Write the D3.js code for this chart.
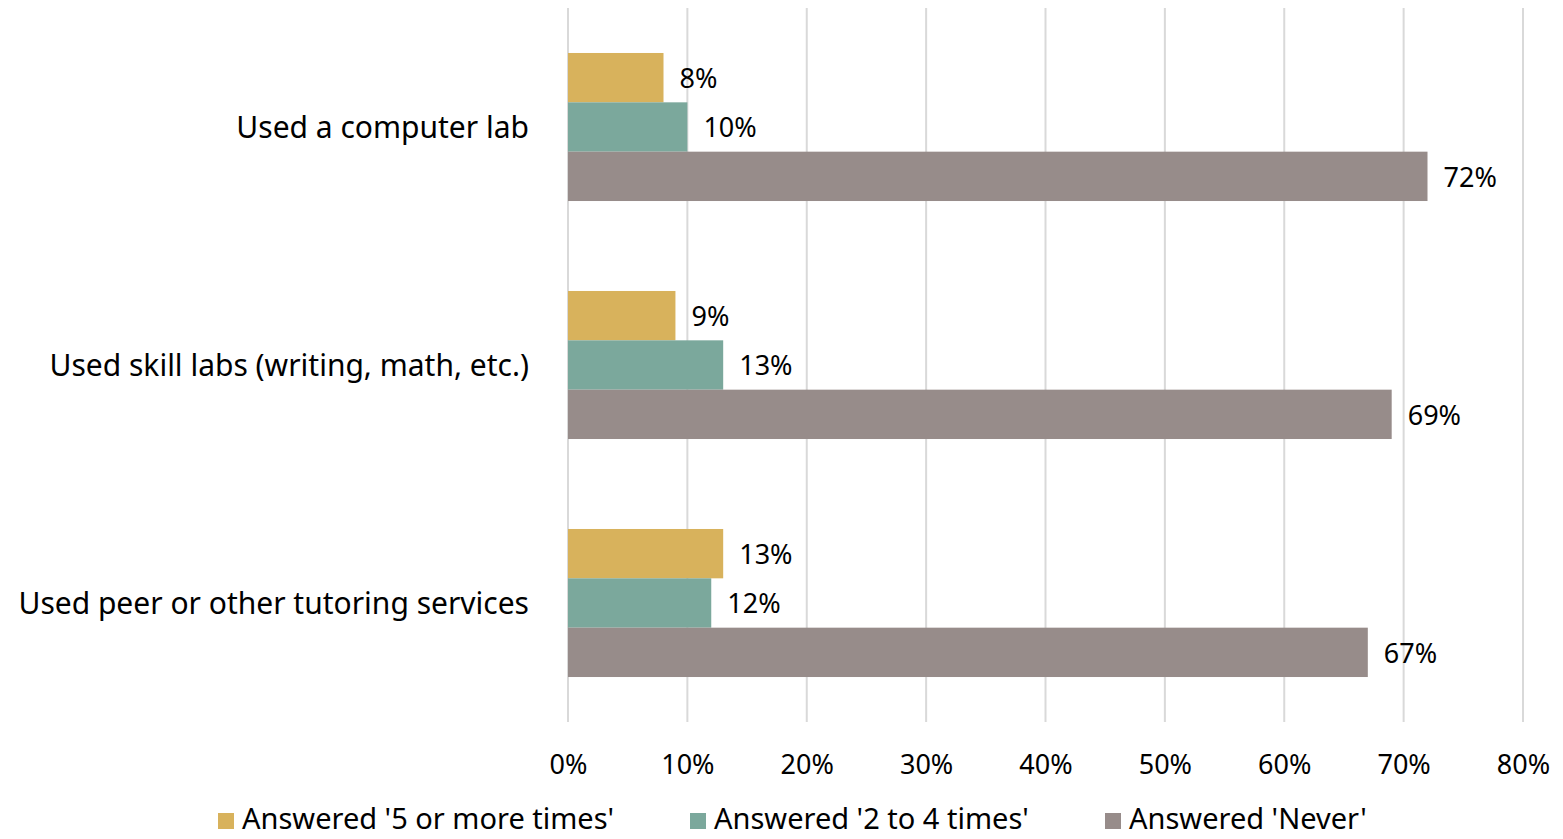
<!DOCTYPE html>
<html>
<head>
<meta charset="utf-8">
<script src="https://cdn.jsdelivr.net/npm/d3@7"></script>
<style>
  body { margin: 0; background: #fff; }
  text { font-family: "Noto Sans", sans-serif; fill: #000; }
</style>
</head>
<body>
<div id="chart"></div>
<script>
const categories = ["Used a computer lab", "Used skill labs (writing, math, etc.)", "Used peer or other tutoring services"];
const seriesNames = ["Answered '5 or more times'", "Answered '2 to 4 times'", "Answered 'Never'"];
const fiveOrMore = [8, 9, 13];
const twoToFour = [10, 13, 12];
const never = [72, 69, 67];
const xTicks = [0, 10, 20, 30, 40, 50, 60, 70, 80];
const colors = ["#D8B25C", "#7BA89C", "#978C8A"];

const width = 1563;
const height = 839;
const marginTop = 8;
const marginBottom = 117;
const marginLeft = 568;
const marginRight = 40;

const seriesValues = [fiveOrMore, twoToFour, never];

const svg = d3.select("#chart")
    .append("svg")
    .attr("width", width)
    .attr("height", height);

const x = d3.scaleLinear()
    .domain([0, 80])
    .range([marginLeft, width - marginRight]);

const y = d3.scaleBand()
    .domain(categories)
    .range([marginTop, height - marginBottom])
    .paddingInner(0.378)
    .paddingOuter(0.189);

const ySub = d3.scaleBand()
    .domain(d3.range(seriesNames.length))
    .range([0, y.bandwidth()]);

// gridlines
svg.append("g")
    .selectAll("line")
    .data(xTicks)
    .join("line")
    .attr("x1", d => x(d))
    .attr("x2", d => x(d))
    .attr("y1", marginTop)
    .attr("y2", height - marginBottom)
    .attr("stroke", "#d9d9d9")
    .attr("stroke-width", 2);

// x axis labels
svg.append("g")
    .attr("transform", `translate(0,${height - marginBottom})`)
    .call(d3.axisBottom(x).tickValues(xTicks).tickFormat(d => d + "%").tickSize(0).tickPadding(33))
    .call(g => g.select(".domain").remove())
    .call(g => g.selectAll("text").attr("font-size", 27).attr("font-family", "'Noto Sans', sans-serif").attr("fill", "#000"));

// category labels
svg.append("g")
    .selectAll("text")
    .data(categories)
    .join("text")
    .attr("x", marginLeft - 39)
    .attr("y", d => y(d) + ySub(1) + ySub.bandwidth() / 2)
    .attr("dy", "0.35em")
    .attr("text-anchor", "end")
    .attr("font-size", 30)
    .text(d => d);

// bars
seriesValues.forEach((vals, s) => {
    const g = svg.append("g");
    g.selectAll("rect")
        .data(vals)
        .join("rect")
        .attr("x", x(0))
        .attr("y", (d, i) => y(categories[i]) + ySub(s))
        .attr("width", d => x(d) - x(0))
        .attr("height", ySub.bandwidth())
        .attr("fill", colors[s]);
    g.selectAll("text")
        .data(vals)
        .join("text")
        .attr("x", d => x(d) + 16)
        .attr("y", (d, i) => y(categories[i]) + ySub(s) + ySub.bandwidth() / 2)
        .attr("dy", "0.38em")
        .attr("font-size", 27)
        .text(d => d + "%");
});

// legend
const legendX = [218, 690, 1105];
const legend = svg.append("g")
    .selectAll("g")
    .data(seriesNames)
    .join("g")
    .attr("transform", (d, i) => `translate(${legendX[i]},819)`);
legend.append("rect")
    .attr("x", 0)
    .attr("y", -6)
    .attr("width", 16)
    .attr("height", 16)
    .attr("fill", (d, i) => colors[i]);
legend.append("text")
    .attr("x", 24)
    .attr("dy", "0.35em")
    .attr("font-size", 29)
    .text(d => d);
</script>
</body>
</html>
